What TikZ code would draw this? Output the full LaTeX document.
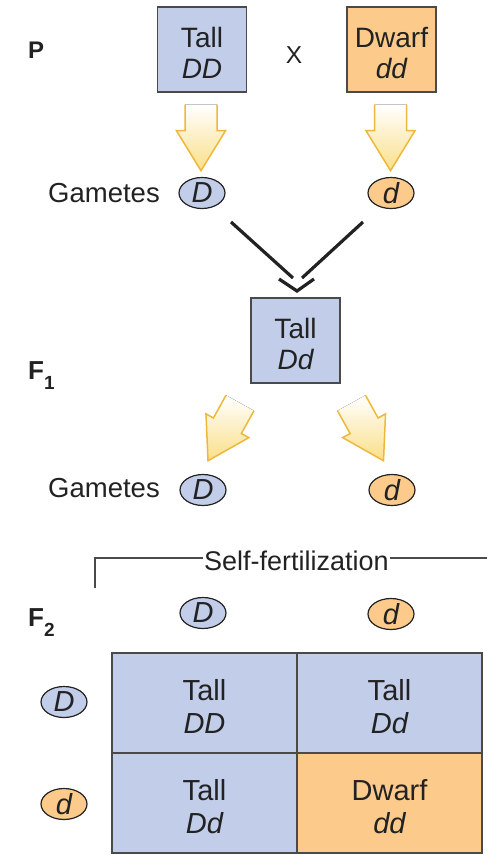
\documentclass[tikz,border=0pt]{standalone}
\usepackage{fontspec}
\setmainfont{Liberation Sans}
\usetikzlibrary{shapes.geometric,calc}
\definecolor{tallblue}{HTML}{C2CDE9}
\definecolor{dwarforange}{HTML}{FCCB8B}
\definecolor{arrowgold}{HTML}{EDB83C}
\definecolor{arrowfill}{HTML}{FADF88}
\definecolor{edgegray}{HTML}{4A4A4A}
\definecolor{inkdark}{HTML}{222222}
\newcommand{\gensub}[2]{#1\raisebox{-10pt}{\fontsize{19}{19}\selectfont #2}}
\tikzset{
  genobox/.style={draw=edgegray, line width=1.4pt, minimum width=89pt, minimum height=85pt,
    align=center, inner sep=0pt, text=inkdark, font=\fontsize{28}{31}\selectfont,
    text height=57pt, text depth=0pt},
  cellbox/.style={draw=edgegray, line width=1.4pt, minimum width=185pt, minimum height=100pt,
    align=center, inner sep=0pt, text=inkdark, font=\fontsize{29}{33}\selectfont,
    text height=60pt, text depth=0pt},
  tallfill/.style={fill=tallblue},
  dwarffill/.style={fill=dwarforange},
  gam/.style={ellipse, draw=inkdark, line width=1.2pt, minimum width=46pt, minimum height=31pt,
    inner sep=0pt, text=inkdark, font=\fontsize{29}{29}\selectfont\itshape},
  gamD/.style={gam, fill=tallblue},
  gamd/.style={gam, fill=dwarforange},
  gen/.style={anchor=base west, inner sep=0pt, text=inkdark, font=\fontsize{26}{26}\selectfont\bfseries},
  plain/.style={anchor=base west, inner sep=0pt, text=inkdark, font=\fontsize{27.5}{27.5}\selectfont},
  cross/.style={line width=3.2pt, draw=inkdark},
  bracket/.style={line width=1.4pt, draw=edgegray},
  fatarrow/.pic={
    \fill[top color=white, bottom color=arrowfill]
      (-16,0) -- (-16,26) -- (-24.5,26) -- (0,66) -- (24.5,26) -- (16,26) -- (16,0) -- cycle;
    \draw[arrowgold, line width=1.5pt, line join=miter]
      (-16,0) -- (-16,26) -- (-24.5,26) -- (0,66) -- (24.5,26) -- (16,26) -- (16,0);
  }
}
\begin{document}
\begin{tikzpicture}[x=1pt,y=-1pt]
\useasboundingbox (0,0) rectangle (487,855);

% generation labels
\node[gen, font=\fontsize{24}{24}\selectfont\bfseries] (P) at (28,58) {P};
\node[gen] (F1) at (28,379) {\gensub{F}{1}};
\node[gen] (F2) at (28,626) {\gensub{F}{2}};

% parents
\node[genobox, tallfill] (pDD) at (202,49.5) {Tall\\\itshape DD};
\node[genobox, dwarffill] (pdd) at (391.5,49.5) {Dwarf\\\itshape dd};
\node[inner sep=0pt, text=inkdark, font=\fontsize{24.5}{24.5}\selectfont] (x) at (294,55) {X};

% parental gametes
\node[plain] (gam1) at (48,202) {Gametes};
\node[gamD] (g1D) at (202,193) {D};
\node[gamd] (g1d) at (391,193) {d};
\pic at ($(pDD.south)+(-1,12)$) {fatarrow};
\pic at ($(pdd.south)+(-1,12)$) {fatarrow};

% fertilization
\coordinate (jl1) at (231,222);
\coordinate (jl2) at (293,278);
\coordinate (jr1) at (363,222);
\coordinate (jr2) at (302,278);
\coordinate (cv1) at (279,279);
\coordinate (cv2) at (297,291);
\coordinate (cv3) at (314,279);
\draw[cross] (jl1) -- (jl2);
\draw[cross] (jr1) -- (jr2);
\draw[cross] (cv1) -- (cv2) -- (cv3);

% F1
\node[genobox, tallfill] (f1Dd) at (295.5,340.5) {Tall\\\itshape Dd};
\pic[rotate=-29] at (240,403) {fatarrow};
\pic[rotate=29] at (351.5,403) {fatarrow};
\node[plain] (gam2) at (48,497) {Gametes};
\node[gamD] (g2D) at (203,490) {D};
\node[gamd] (g2d) at (392,490) {d};

% self-fertilization bracket
\node[anchor=base, inner sep=1pt, text=inkdark, font=\fontsize{27}{27}\selectfont] (sf) at (296.5,570) {Self-fertilization};
\coordinate (bk0) at (95,588);
\coordinate (bk1) at (95,558);
\coordinate (bk2) at (487,558);
\draw[bracket] (bk0) -- (bk1) -- (sf.west |- bk1);
\draw[bracket] (sf.east |- bk2) -- (bk2);

% F2 Punnett square
\node[gamD] (cD) at (203,613) {D};
\node[gamd] (cd) at (391,614) {d};
\node[gamD] (rD) at (64,702) {D};
\node[gamd] (rd) at (64,804) {d};
\node[cellbox, tallfill] (c11) at (204.5,703) {Tall\\\itshape DD};
\node[cellbox, tallfill] (c12) at (389.5,703) {Tall\\\itshape Dd};
\node[cellbox, tallfill] (c21) at (204.5,803) {Tall\\\itshape Dd};
\node[cellbox, dwarffill] (c22) at (389.5,803) {Dwarf\\\itshape dd};
\end{tikzpicture}
\end{document}
